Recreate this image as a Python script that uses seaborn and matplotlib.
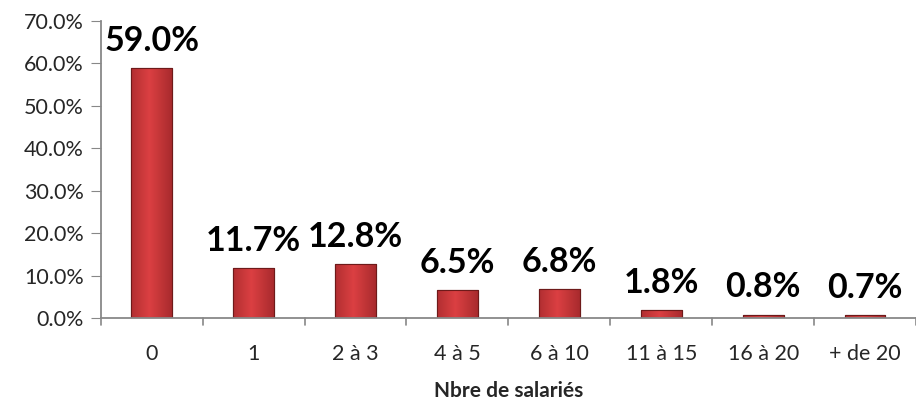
import numpy as np
import pandas as pd
import matplotlib
matplotlib.use("Agg")
import matplotlib.pyplot as plt
import seaborn as sns

categories = ["0", "1", "2 à 3", "4 à 5", "6 à 10", "11 à 15", "16 à 20", "+ de 20"]
shares = [59.0, 11.7, 12.8, 6.5, 6.8, 1.8, 0.8, 0.7]
yticks = [0, 10, 20, 30, 40, 50, 60, 70]

df = pd.DataFrame({"cat": categories, "pct": shares})

sns.set_style("white")
plt.rcParams["font.family"] = ["Lato", "DejaVu Sans"]

fig = plt.figure(figsize=(9.16, 4.03), dpi=100)
ax = fig.add_axes([0.110, 0.211, 0.890, 0.737])

sns.barplot(data=df, x="cat", y="pct", color="#c43538", width=0.4,
            edgecolor="#6e1a1a", linewidth=0.8, ax=ax)

# excel-like shading: darker sides, lighter middle
grad = np.linspace(0, 1, 64)
shade = 1 - 0.5 * np.abs(grad - 0.45) * 2
img = np.zeros((1, 64, 3))
img[0, :, 0] = 0.50 + 0.36 * shade
img[0, :, 1] = 0.10 + 0.15 * shade
img[0, :, 2] = 0.11 + 0.15 * shade
for p in ax.patches:
    x0, w, h = p.get_x(), p.get_width(), p.get_height()
    im = ax.imshow(img, extent=[x0, x0 + w, 0, h], aspect="auto", zorder=p.get_zorder() + 0.1)
    im.set_clip_path(p)
    ax.add_patch(plt.Rectangle((x0, 0), w, h, fill=False, edgecolor="#6e1a1a",
                               linewidth=0.8, zorder=p.get_zorder() + 0.2))

for i, v in enumerate(shares):
    ax.annotate(f"{v:.1f}%", (i, v), xytext=(0, 8), textcoords="offset points",
                ha="center", va="bottom", fontsize=24.5, fontweight="bold", color="black")

ax.set_xlim(-0.5, len(categories) - 0.5)
ax.set_ylim(0, 70)
ax.set_yticks(yticks)
ax.set_yticklabels([f"{t:.1f}%" for t in yticks], fontsize=15.5)
ax.set_xticks(range(len(categories)))
ax.set_xticklabels(categories, fontsize=15.5)
ax.tick_params(axis="x", length=0, pad=19)
ax.tick_params(axis="y", length=7, color="#888888", direction="out", left=True, pad=5)
for xb in np.arange(-0.5, len(categories), 1.0):
    ax.plot([xb, xb], [0, -0.025], transform=ax.get_xaxis_transform(), color="#888888",
            lw=1.2, clip_on=False)

ax.set_xlabel("Nbre de salariés", fontsize=15, fontweight="bold", labelpad=12)
ax.set_ylabel("")
for s in ["top", "right"]:
    ax.spines[s].set_visible(False)
for s in ["left", "bottom"]:
    ax.spines[s].set_color("#888888")
    ax.spines[s].set_linewidth(1.3)

fig.savefig("out.png", dpi=100)
